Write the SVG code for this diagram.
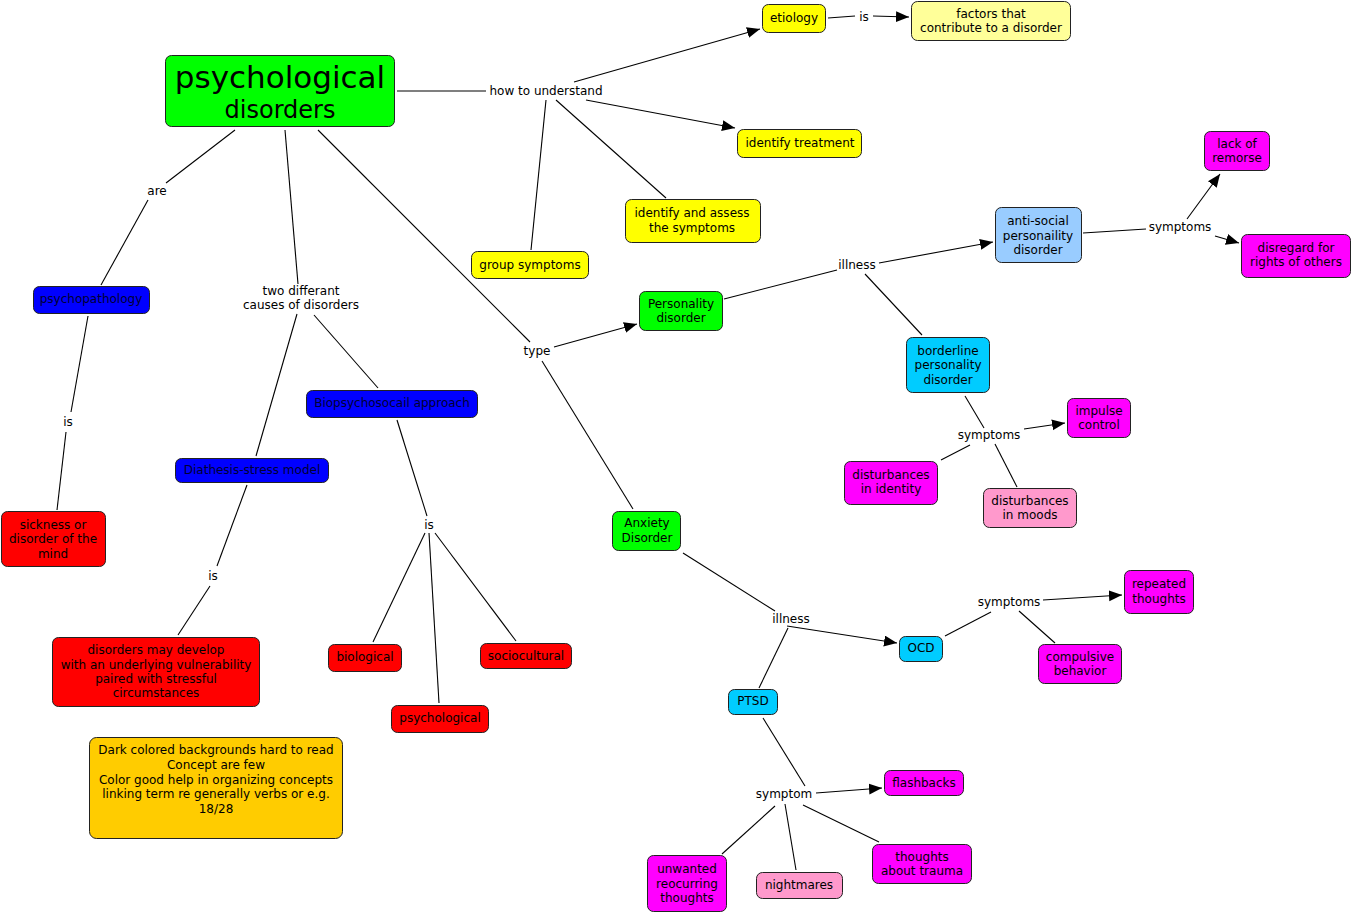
<svg xmlns="http://www.w3.org/2000/svg" width="1353" height="914" viewBox="0 0 1353 914">
<defs>
<marker id="ah" markerUnits="userSpaceOnUse" markerWidth="14" markerHeight="12" refX="13" refY="5.5" orient="auto">
<path d="M0,0 L13,5.5 L0,11 Z" fill="#000"/>
</marker>
<style>
text{font-family:"DejaVu Sans",Verdana,sans-serif;font-size:12px;fill:#000;text-anchor:middle}
.n rect{stroke:#222;stroke-width:1}
.lime{fill:#00ff00}.yel{fill:#ffff00}.lyel{fill:#ffff99}.blue{fill:#0000ff}.red{fill:#ff0000}
.org{fill:#ffcc00}.lblue{fill:#99ccff}.cyan{fill:#00ccff}.mag{fill:#ff00ff}.pink{fill:#ff99cc}
.dk{fill:#000033}
#connectors line{stroke:#000;stroke-width:1.1}
#connectors .a{marker-end:url(#ah)}
</style>
</defs>
<rect width="1353" height="914" fill="#fff"/>

<g id="connectors">
<line x1="397" y1="91" x2="486" y2="91"/>
<line class="a" x1="574" y1="82" x2="760" y2="29"/>
<line class="a" x1="586" y1="100" x2="735" y2="128"/>
<line x1="556" y1="100" x2="666" y2="198"/>
<line x1="546" y1="100" x2="531" y2="250"/>
<line x1="828" y1="18" x2="855" y2="16"/>
<line class="a" x1="873" y1="16" x2="909" y2="17"/>
<line x1="235" y1="130" x2="166" y2="183"/>
<line x1="148" y1="200" x2="101" y2="285"/>
<line x1="88" y1="316" x2="71" y2="412"/>
<line x1="66" y1="432" x2="57" y2="510"/>
<line x1="285" y1="130" x2="298" y2="284"/>
<line x1="297" y1="314" x2="256" y2="456"/>
<line x1="314" y1="315" x2="378" y2="388"/>
<line x1="247" y1="485" x2="217" y2="566"/>
<line x1="210" y1="586" x2="178" y2="635"/>
<line x1="397" y1="420" x2="427" y2="516"/>
<line x1="425" y1="533" x2="373" y2="642"/>
<line x1="429" y1="533" x2="439" y2="703"/>
<line x1="435" y1="533" x2="516" y2="641"/>
<line x1="318" y1="130" x2="530" y2="342"/>
<line class="a" x1="554" y1="347" x2="637" y2="324"/>
<line x1="542" y1="361" x2="633" y2="509"/>
<line x1="724" y1="299" x2="837" y2="270"/>
<line class="a" x1="879" y1="263" x2="993" y2="242"/>
<line x1="865" y1="274" x2="922" y2="335"/>
<line x1="1083" y1="233" x2="1146" y2="229"/>
<line class="a" x1="1187" y1="219" x2="1220" y2="174"/>
<line class="a" x1="1215" y1="236" x2="1239" y2="243"/>
<line x1="965" y1="396" x2="984" y2="428"/>
<line class="a" x1="1024" y1="429" x2="1065" y2="423"/>
<line x1="970" y1="445" x2="941" y2="460"/>
<line x1="995" y1="444" x2="1017" y2="487"/>
<line x1="683" y1="553" x2="775" y2="611"/>
<line class="a" x1="787" y1="626" x2="897" y2="643"/>
<line x1="788" y1="628" x2="759" y2="688"/>
<line x1="945" y1="636" x2="991" y2="612"/>
<line class="a" x1="1043" y1="600" x2="1122" y2="595"/>
<line x1="1019" y1="611" x2="1055" y2="643"/>
<line x1="763" y1="718" x2="805" y2="786"/>
<line class="a" x1="816" y1="793" x2="882" y2="788"/>
<line x1="775" y1="806" x2="722" y2="854"/>
<line x1="785" y1="804" x2="796" y2="870"/>
<line x1="803" y1="805" x2="879" y2="842"/>
</g>

<g id="linking-phrases">
<text x="546" y="95">how to understand</text>
<text x="864" y="21">is</text>
<text x="157" y="195">are</text>
<text x="68" y="426">is</text>
<text x="301" y="295">two differant</text>
<text x="301" y="309">causes of disorders</text>
<text x="213" y="580">is</text>
<text x="429" y="529">is</text>
<text x="537" y="355">type</text>
<text x="857" y="269">illness</text>
<text x="1180" y="231">symptoms</text>
<text x="989" y="439">symptoms</text>
<text x="791" y="623">illness</text>
<text x="1009" y="606">symptoms</text>
<text x="784" y="798">symptom</text>
</g>

<g id="n-title" class="n"><rect class="lime" x="165.5" y="55.5" width="229" height="71" rx="6"/><text x="280" y="88" style="font-size:31px">psychological</text><text x="280" y="118" style="font-size:24px">disorders</text></g>
<g id="n-etiology" class="n"><rect class="yel" x="762.5" y="4.5" width="63" height="28" rx="6"/><text x="794" y="22">etiology</text></g>
<g id="n-factors" class="n"><rect class="lyel" x="911.5" y="1.5" width="159" height="39" rx="6"/><text x="991" y="18">factors that</text><text x="991" y="32">contribute to a disorder</text></g>
<g id="n-treatment" class="n"><rect class="yel" x="737.5" y="129.5" width="124" height="28" rx="6"/><text x="800" y="147">identify treatment</text></g>
<g id="n-assess" class="n"><rect class="yel" x="625.5" y="199.5" width="135" height="43" rx="6"/><text x="692" y="217">identify and assess</text><text x="692" y="232">the symptoms</text></g>
<g id="n-group" class="n"><rect class="yel" x="471.5" y="251.5" width="117" height="27" rx="6"/><text x="530" y="269">group symptoms</text></g>
<g id="n-psychopathology" class="n"><rect class="blue" x="33.5" y="286.5" width="116" height="27" rx="6"/><text x="91" y="303" class="dk">psychopathology</text></g>
<g id="n-sickness" class="n"><rect class="red" x="1.5" y="511.5" width="104" height="55" rx="6"/><text x="53" y="529">sickness or</text><text x="53" y="543">disorder of the</text><text x="53" y="558">mind</text></g>
<g id="n-diathesis" class="n"><rect class="blue" x="175.5" y="458.5" width="153" height="24" rx="6"/><text x="252" y="474" class="dk">Diathesis-stress model</text></g>
<g id="n-bio-approach" class="n"><rect class="blue" x="306.5" y="390.5" width="171" height="27" rx="6"/><text x="392" y="407" class="dk">Biopsychosocail approach</text></g>
<g id="n-develop" class="n"><rect class="red" x="52.5" y="637.5" width="207" height="69" rx="6"/><text x="156" y="654">disorders may develop</text><text x="156" y="669">with an underlying vulnerability</text><text x="156" y="683">paired with stressful</text><text x="156" y="697">circumstances</text></g>
<g id="n-biological" class="n"><rect class="red" x="328.5" y="644.5" width="73" height="27" rx="6"/><text x="365" y="661">biological</text></g>
<g id="n-sociocultural" class="n"><rect class="red" x="480.5" y="643.5" width="91" height="25" rx="6"/><text x="526" y="660">sociocultural</text></g>
<g id="n-psychological" class="n"><rect class="red" x="391.5" y="705.5" width="97" height="27" rx="6"/><text x="440" y="722">psychological</text></g>
<g id="n-note" class="n"><rect class="org" x="89.5" y="737.5" width="253" height="101" rx="7"/><text x="216" y="754">Dark colored backgrounds hard to read</text><text x="216" y="769">Concept are few</text><text x="216" y="784">Color good help in organizing concepts</text><text x="216" y="798">linking term re generally verbs or e.g.</text><text x="216" y="813">18/28</text></g>
<g id="n-personality" class="n"><rect class="lime" x="639.5" y="291.5" width="83" height="39" rx="6"/><text x="681" y="308">Personality</text><text x="681" y="322">disorder</text></g>
<g id="n-antisocial" class="n"><rect class="lblue" x="995.5" y="207.5" width="86" height="55" rx="6"/><text x="1038" y="225">anti-social</text><text x="1038" y="240">personaility</text><text x="1038" y="254">disorder</text></g>
<g id="n-remorse" class="n"><rect class="mag" x="1204.5" y="131.5" width="65" height="39" rx="6"/><text x="1237" y="148">lack of</text><text x="1237" y="162">remorse</text></g>
<g id="n-disregard" class="n"><rect class="mag" x="1241.5" y="234.5" width="109" height="43" rx="6"/><text x="1296" y="252">disregard for</text><text x="1296" y="266">rights of others</text></g>
<g id="n-borderline" class="n"><rect class="cyan" x="906.5" y="337.5" width="83" height="55" rx="6"/><text x="948" y="355">borderline</text><text x="948" y="369">personality</text><text x="948" y="384">disorder</text></g>
<g id="n-impulse" class="n"><rect class="mag" x="1067.5" y="398.5" width="63" height="39" rx="6"/><text x="1099" y="415">impulse</text><text x="1099" y="429">control</text></g>
<g id="n-identity" class="n"><rect class="mag" x="844.5" y="461.5" width="93" height="43" rx="6"/><text x="891" y="479">disturbances</text><text x="891" y="493">in identity</text></g>
<g id="n-moods" class="n"><rect class="pink" x="983.5" y="488.5" width="93" height="39" rx="6"/><text x="1030" y="505">disturbances</text><text x="1030" y="519">in moods</text></g>
<g id="n-anxiety" class="n"><rect class="lime" x="612.5" y="511.5" width="68" height="39" rx="6"/><text x="647" y="527">Anxiety</text><text x="647" y="542">Disorder</text></g>
<g id="n-ocd" class="n"><rect class="cyan" x="899.5" y="636.5" width="43" height="25" rx="6"/><text x="921" y="652">OCD</text></g>
<g id="n-repeated" class="n"><rect class="mag" x="1124.5" y="570.5" width="69" height="43" rx="6"/><text x="1159" y="588">repeated</text><text x="1159" y="603">thoughts</text></g>
<g id="n-compulsive" class="n"><rect class="mag" x="1038.5" y="644.5" width="83" height="39" rx="6"/><text x="1080" y="661">compulsive</text><text x="1080" y="675">behavior</text></g>
<g id="n-ptsd" class="n"><rect class="cyan" x="728.5" y="689.5" width="49" height="25" rx="6"/><text x="753" y="705">PTSD</text></g>
<g id="n-flashbacks" class="n"><rect class="mag" x="884.5" y="770.5" width="79" height="25" rx="6"/><text x="924" y="787">flashbacks</text></g>
<g id="n-trauma" class="n"><rect class="mag" x="872.5" y="844.5" width="99" height="39" rx="6"/><text x="922" y="861">thoughts</text><text x="922" y="875">about trauma</text></g>
<g id="n-nightmares" class="n"><rect class="pink" x="756.5" y="872.5" width="86" height="26" rx="6"/><text x="799" y="889">nightmares</text></g>
<g id="n-unwanted" class="n"><rect class="mag" x="647.5" y="855.5" width="79" height="56" rx="6"/><text x="687" y="873">unwanted</text><text x="687" y="888">reocurring</text><text x="687" y="902">thoughts</text></g>
</svg>
